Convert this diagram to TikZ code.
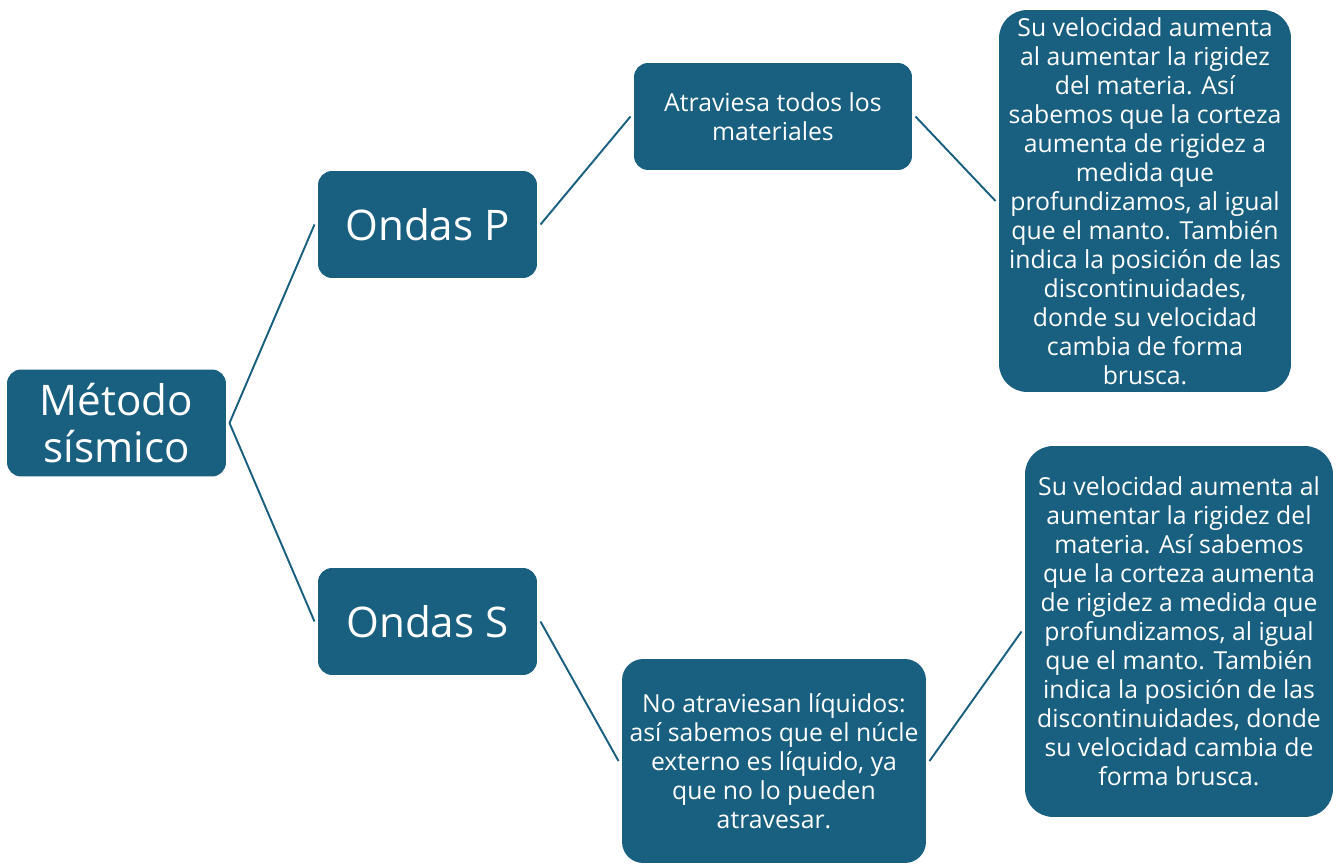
\documentclass[tikz,border=0pt]{standalone}
\usepackage{fontspec}
\setmainfont{Open Sans}
\usepackage{tikz}
\usetikzlibrary{positioning}
\definecolor{petrol}{HTML}{185F80}

\tikzset{
  box/.style={fill=petrol,text=white,rounded corners=8pt,inner sep=0pt,
    align=center,outer sep=2pt},
  bigbox/.style={box,font=\fontsize{24}{27.2}\selectfont,
    minimum width=4.38cm,minimum height=2.14cm},
  txtbox/.style={box,font=\fontsize{14.1}{16.5}\selectfont},
  link/.style={petrol,line width=1.1pt}
}

\begin{document}
\begin{tikzpicture}[x=0.02cm,y=-0.02cm]
  \useasboundingbox (0,0) rectangle (1338,864);
  % main node and the two wave types
  \node[bigbox] (metodo) at (116.5,423) {Método\\sísmico};
  \node[bigbox] (ondasp) at (427.5,224.5) {Ondas P};
  \node[bigbox] (ondass) at (427.5,621.5) {Ondas S};
  % P waves
  \node[txtbox,minimum width=5.56cm,minimum height=2.14cm]
    (pmat) at (773,116.5) {Atraviesa todos los\\materiales};
  \node[txtbox,rounded corners=16pt,minimum width=5.84cm,minimum height=7.64cm]
    (pvel) at (1145,201)
    {Su velocidad aumenta\\al aumentar la rigidez\\del materia. Así\\
     sabemos que la corteza\\aumenta de rigidez a\\medida que\\
     profundizamos, al igual\\que el manto. También\\
     indica la posición de las\\discontinuidades,\\donde su velocidad\\
     cambia de forma\\brusca.};
  % S waves
  \node[txtbox,rounded corners=12pt,minimum width=6.08cm,minimum height=4.08cm]
    (sliq) at (774,761)
    {No atraviesan líquidos:\\así sabemos que el núcle\\externo es líquido, ya\\
     que no lo pueden\\atravesar.};
  \node[txtbox,rounded corners=16pt,minimum width=6.16cm,minimum height=7.42cm]
    (svel) at (1179,631.5)
    {Su velocidad aumenta al\\aumentar la rigidez del\\materia. Así sabemos\\
     que la corteza aumenta\\de rigidez a medida que\\profundizamos, al igual\\
     que el manto. También\\indica la posición de las\\discontinuidades, donde\\
     su velocidad cambia de\\forma brusca.};
  % connectors
  \draw[link] (metodo.east) -- (ondasp.west);
  \draw[link] (metodo.east) -- (ondass.west);
  \draw[link] (ondasp.east) -- (pmat.west);
  \draw[link] (pmat.east) -- (pvel.west);
  \draw[link] (ondass.east) -- (sliq.west);
  \draw[link] (sliq.east) -- (svel.west);
\end{tikzpicture}
\end{document}
